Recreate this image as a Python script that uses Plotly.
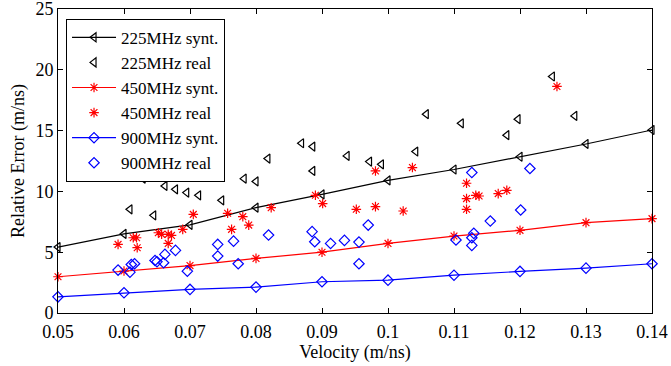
import plotly.graph_objects as go

# Synthetic curves (sampled at these velocities)
v_synt = [0.05, 0.06, 0.07, 0.08, 0.09, 0.10, 0.11, 0.12, 0.13, 0.14]
e225_synt = [5.42, 6.5, 7.25, 8.66, 9.75, 10.9, 11.8, 12.85, 13.9, 15.05]
e450_synt = [2.98, 3.45, 3.9, 4.49, 5.0, 5.72, 6.33, 6.8, 7.43, 7.76]
e900_synt = [1.33, 1.66, 1.94, 2.13, 2.57, 2.7, 3.11, 3.42, 3.69, 4.05]

# Real measurements
v225_real = [0.0609, 0.0629, 0.0645, 0.0662, 0.0678, 0.0695, 0.0713, 0.0748, 0.0782, 0.0800,
             0.0818, 0.0869, 0.0886, 0.0886, 0.0938, 0.0972, 0.0990, 0.1042, 0.1058, 0.1111,
             0.1180, 0.1197, 0.1249, 0.1283]
e225_real = [8.53, 11.05, 8.03, 10.45, 10.17, 9.9, 9.68, 9.27, 11.05, 10.82,
             12.7, 13.96, 13.69, 11.68, 12.92, 12.45, 12.23, 13.28, 16.35, 15.6,
             14.62, 15.94, 19.45, 16.21]

v450_real = [0.0591, 0.0614, 0.0619, 0.0620, 0.0652, 0.0657, 0.0667, 0.0672, 0.0667, 0.0689,
             0.0705, 0.0757, 0.0763, 0.0780, 0.0789, 0.0823, 0.0890, 0.0901, 0.0952, 0.0981,
             0.0981, 0.1023, 0.1037, 0.1119, 0.1119, 0.1119, 0.1133, 0.1138, 0.1167, 0.1180,
             0.1256]
e450_real = [5.64, 6.19, 6.19, 5.37, 6.6, 6.47, 6.47, 6.38, 5.72, 6.88,
             8.11, 8.2, 6.88, 7.92, 7.23, 8.66, 9.68, 9.0, 8.53, 11.68,
             8.75, 8.39, 11.96, 10.67, 9.41, 8.53, 9.68, 9.62, 9.82, 10.09,
             18.63]

v900_real = [0.0591, 0.0609, 0.0611, 0.0616, 0.0647, 0.0650, 0.0660, 0.0662, 0.0678, 0.0696,
             0.0742, 0.0742, 0.0766, 0.0773, 0.0819, 0.0885, 0.0889, 0.0913, 0.0934, 0.0956,
             0.0956, 0.0970, 0.1103, 0.1127, 0.1127, 0.1130, 0.1127, 0.1155, 0.1201, 0.1215]
e900_real = [3.53, 3.36, 3.99, 4.05, 4.32, 4.22, 4.13, 4.82, 5.15, 3.44,
             5.64, 4.68, 5.91, 4.05, 6.41, 6.69, 5.86, 5.72, 5.97, 5.83,
             4.05, 7.23, 6.0, 11.55, 6.19, 6.55, 5.56, 7.56, 8.47, 11.88]

x_ticks = [0.05, 0.06, 0.07, 0.08, 0.09, 0.10, 0.11, 0.12, 0.13, 0.14]
x_ticklabels = ["0.05", "0.06", "0.07", "0.08", "0.09", "0.1", "0.11", "0.12", "0.13", "0.14"]
y_ticks = [0, 5, 10, 15, 20, 25]

FONT = "Liberation Serif"
BLACK, RED, BLUE = "#000000", "#ff0000", "#0000ff"

fig = go.Figure()

def synt(x, y, color, symbol, size, name):
    fig.add_trace(go.Scatter(x=x, y=y, mode="lines+markers", name=name, cliponaxis=False,
                             line=dict(color=color, width=1.2),
                             marker=dict(symbol=symbol, size=size, color=color,
                                         line=dict(color=color, width=1.2))))

def real(x, y, color, symbol, size, name):
    fig.add_trace(go.Scatter(x=x, y=y, mode="markers", name=name, cliponaxis=False,
                             marker=dict(symbol=symbol, size=size, color=color,
                                         line=dict(color=color, width=1.2))))

synt(v_synt, e225_synt, BLACK, "triangle-left-open", 8, "225MHz synt.")
real(v225_real, e225_real, BLACK, "triangle-left-open", 8, "225MHz real")
synt(v_synt, e450_synt, RED, "asterisk-open", 8, "450MHz synt.")
real(v450_real, e450_real, RED, "asterisk-open", 8, "450MHz real")
synt(v_synt, e900_synt, BLUE, "diamond-open", 8, "900MHz synt.")
real(v900_real, e900_real, BLUE, "diamond-open", 8, "900MHz real")

axis_common = dict(showline=True, linecolor="black", linewidth=1, mirror="ticks",
                   ticks="inside", ticklen=5, tickcolor="black", showgrid=False,
                   zeroline=False, automargin=False, ticklabeloverflow="allow",
                   tickfont=dict(family=FONT, size=18, color="black"))

fig.update_layout(
    width=671, height=366,
    margin=dict(l=58, r=19, t=9, b=53),
    paper_bgcolor="white", plot_bgcolor="white",
    font=dict(family=FONT, size=18, color="black"),
    xaxis=dict(range=[0.05, 0.14], tickvals=x_ticks, ticktext=x_ticklabels,
               ticklabelstandoff=2,
               title=dict(text="Velocity (m/ns)", font=dict(family=FONT, size=18), standoff=2),
               **axis_common),
    yaxis=dict(range=[0, 25], tickvals=y_ticks,
               title=dict(text="Relative Error (m/ns)", font=dict(family=FONT, size=18), standoff=6),
               **axis_common),
    legend=dict(x=0.0135, y=0.968, xanchor="left", yanchor="top",
                bgcolor="white", bordercolor="black", borderwidth=1,
                font=dict(family=FONT, size=17), tracegroupgap=0,
                itemwidth=44, entrywidth=172),
    showlegend=True,
)

fig.write_html("out.html", config={"displayModeBar": False},
               post_script="document.body.style.margin='0';")
